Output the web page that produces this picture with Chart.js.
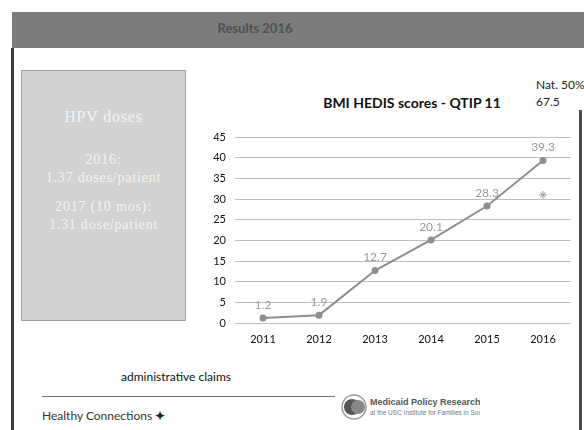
<!DOCTYPE html>
<html>
<head>
<meta charset="utf-8">
<script src="https://cdn.jsdelivr.net/npm/chart.js@4.4.0/dist/chart.umd.min.js"></script>
<style>
  body { margin: 0; width: 584px; height: 430px; background: #fff; position: relative; overflow: hidden; font-family: Lato, "Liberation Sans", sans-serif; }
  .abs { position: absolute; }
  #header { left: 12px; top: 12px; width: 572px; height: 36px; background: #7b7b7b; }
  #headerText { left: 200px; top: 20px; width: 110px; text-align: center; font-size: 13px; font-weight: bold; color: #505050; }
  #leftBorder { left: 11px; top: 48px; width: 3px; height: 382px; background: #3a3a3a; }
  #rightBorder { left: 579px; top: 110px; width: 3px; height: 320px; background: #4a4a4a; }
  #box { left: 21px; top: 70px; width: 163px; height: 249px; background: #d2d2d2; border: 1px solid #a0a0a0; color: #f4f4f4;
         font-family: "Liberation Serif", serif; font-size: 14px; letter-spacing: 0.8px; text-align: center; white-space: nowrap; }
  #box div { position: absolute; left: 0; width: 100%; }
  #title { left: 300px; top: 94px; width: 224px; text-align: center; font-size: 14px; font-weight: bold; color: #111; }
  #nat { left: 536px; top: 76px; font-size: 12px; color: #222; line-height: 17px; white-space: nowrap; }
  #chartWrap { left: 205px; top: 120px; width: 379px; height: 232px; }
  #claims { left: 121px; top: 369px; font-size: 12px; color: #111; }
  #rule { left: 42px; top: 396px; width: 293px; height: 1px; background: #777; }
  #hc { left: 42px; top: 408px; font-size: 12px; color: #333; }
  #mpr { left: 340px; top: 392px; width: 140px; height: 30px; }
</style>
</head>
<body>
<div id="header" class="abs"></div>
<div id="headerText" class="abs">Results 2016</div>
<div id="leftBorder" class="abs"></div>
<div id="rightBorder" class="abs"></div>

<div id="box" class="abs">
  <div style="top:37px;font-size:16px;">HPV doses</div>
  <div style="top:81px;">2016:</div>
  <div style="top:99px;">1.37 doses/patient</div>
  <div style="top:128px;">2017 (10 mos):</div>
  <div style="top:146px;">1.31 dose/patient</div>
</div>

<div id="title" class="abs">BMI HEDIS scores - QTIP 11</div>
<div id="nat" class="abs">Nat. 50%<br>67.5</div>

<div id="chartWrap" class="abs"><canvas id="hedisChart"></canvas></div>

<div id="claims" class="abs">administrative claims</div>
<div id="rule" class="abs"></div>
<div id="hc" class="abs">Healthy Connections <span style="font-weight:bold;color:#222;">&#10022;</span></div>
<svg id="mpr" class="abs" viewBox="0 0 140 30">
  <circle cx="14" cy="15" r="12" fill="none" stroke="#999" stroke-width="1.5"/>
  <circle cx="12" cy="15" r="8" fill="#555"/>
  <circle cx="18" cy="15" r="7" fill="#888"/>
  <text x="30" y="13" font-size="9" font-weight="bold" fill="#555" font-family="Liberation Sans Narrow, Liberation Sans">Medicaid Policy Research</text>
  <text x="30" y="23" font-size="6.5" fill="#777" font-family="Liberation Sans">at the USC Institute for Families in Society</text>
</svg>

<script>
const years = ["2011", "2012", "2013", "2014", "2015", "2016"];
const bmiScores = [1.2, 1.9, 12.7, 20.1, 28.3, 39.3];
const starMark = [null, null, null, null, null, 31];
const yTicks = [0, 5, 10, 15, 20, 25, 30, 35, 40, 45];

// draws the value above each point of the first series
const valueLabels = {
  id: "valueLabels",
  afterDatasetsDraw(chart) {
    const ctx = chart.ctx;
    const meta = chart.getDatasetMeta(0);
    ctx.save();
    ctx.font = "12px Lato, 'Liberation Sans', sans-serif";
    ctx.fillStyle = "#9a9a9a";
    ctx.textAlign = "center";
    ctx.textBaseline = "middle";
    meta.data.forEach((pt, i) => {
      ctx.fillText(bmiScores[i].toFixed(1), pt.x, pt.y - 13);
    });
    ctx.restore();
  },
};

new Chart(document.getElementById("hedisChart"), {
  type: "line",
  data: {
    labels: years,
    datasets: [
      {
        label: "BMI HEDIS",
        data: bmiScores,
        borderColor: "#8e8e8e",
        backgroundColor: "#8e8e8e",
        borderWidth: 2,
        pointRadius: 2.5,
        pointHoverRadius: 2.5,
        tension: 0,
      },
      {
        label: "star",
        data: starMark,
        showLine: false,
        pointStyle: "star",
        pointRadius: 4,
        borderColor: "#9a9a9a",
        borderWidth: 1,
      },
    ],
  },
  options: {
    responsive: true,
    maintainAspectRatio: false,
    animation: false,
    layout: { padding: { top: 17, right: 13, left: 0, bottom: 0 } },
    plugins: { legend: { display: false }, tooltip: { enabled: false } },
    scales: {
      x: {
        offset: true,
        grid: { display: false, drawTicks: false },
        border: { display: false },
        ticks: { color: "#111", font: { size: 11, family: "Lato" }, padding: 10, maxRotation: 0 },
        afterFit: (scale) => { scale.height = 29; },
      },
      y: {
        min: 0,
        max: 45,
        afterBuildTicks: (scale) => { scale.ticks = yTicks.map((v) => ({ value: v })); },
        grid: { color: "#bdbdbd", lineWidth: 1, drawTicks: false },
        border: { display: false },
        ticks: { color: "#111", font: { size: 11, family: "Lato" }, padding: 9 },
        afterFit: (scale) => { scale.width = 30; },
      },
    },
  },
  plugins: [valueLabels],
});
</script>
</body>
</html>
